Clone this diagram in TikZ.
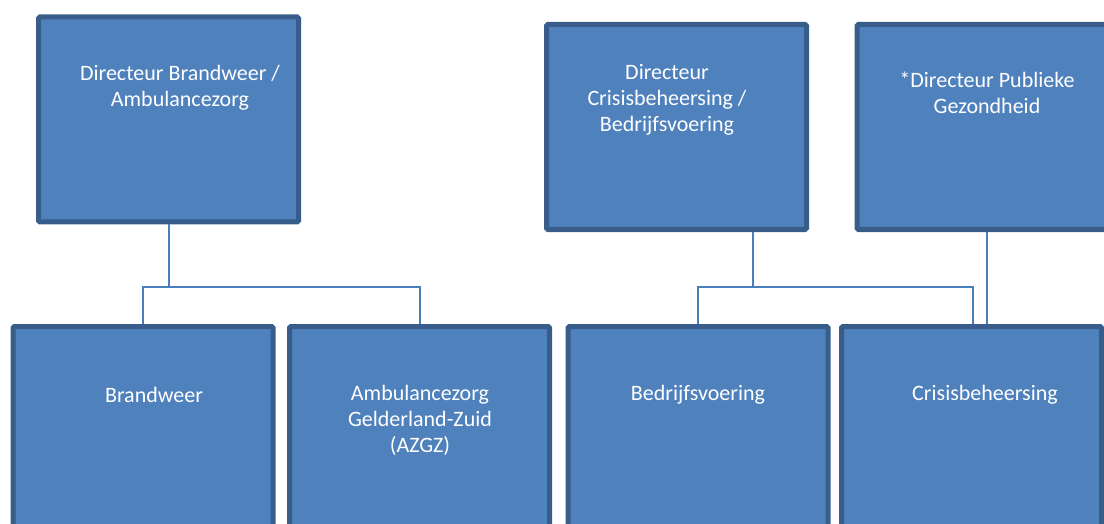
\documentclass[tikz,border=0pt]{standalone}
\usepackage{fontspec}
\setmainfont{Carlito}
\usetikzlibrary{positioning}
\definecolor{boxfill}{HTML}{4F81BD}
\definecolor{boxline}{HTML}{385D8A}
\definecolor{connline}{HTML}{4A7EBB}
\begin{document}
\begin{tikzpicture}[x=1pt,y=-1pt]
% Stijlen
\tikzset{
  unit/.style={rectangle, draw=boxline, fill=boxfill, line width=5pt, rounded corners=1.5pt, minimum width=260pt, minimum height=205pt, inner sep=0pt},
  caption/.style={text=white, align=center, font=\fontsize{22}{26}\selectfont, inner sep=0pt},
  conn/.style={draw=connline, line width=2pt}
}
\path[use as bounding box, clip] (0,0) rectangle (1104,524);

% Directeuren
\node[unit] (dir_bw) at (168.5,119.5) {};
\node[unit] (dir_cb) at (676.5,127) {};
\node[unit] (dir_pg) at (987,127) {};

% Onderdelen
\node[unit] (brandweer) at (143,429) {};
\node[unit] (azgz) at (419.5,429) {};
\node[unit] (bedrijf) at (698,429) {};
\node[unit] (crisis) at (971.5,429) {};

% Teksten
\node[caption] (t_dir_bw) at (180,87.5) {Directeur Brandweer /\\Ambulancezorg};
\node[caption] (t_dir_cb) at (667,100) {Directeur\\Crisisbeheersing /\\Bedrijfsvoering};
\node[caption] (t_dir_pg) at (987,93) {*Directeur Publieke\\Gezondheid};
\node[caption] (t_brandweer) at (154,395) {Brandweer};
\node[caption] (t_azgz) at (420,420) {Ambulancezorg\\Gelderland-Zuid\\(AZGZ)};
\node[caption] (t_bedrijf) at (698,395) {Bedrijfsvoering};
\node[caption] (t_crisis) at (985,395) {Crisisbeheersing};

% Verbindingen
\coordinate (bar_bw) at (168.5,287);
\coordinate (bar_cb) at (753,287);
\draw[conn] (dir_bw.south) -- (bar_bw);
\draw[conn] (brandweer.north) |- (bar_bw) -| (azgz.north);
\draw[conn] (dir_cb.south -| bar_cb) -- (bar_cb);
\draw[conn] (bedrijf.north) |- (bar_cb) -| ([xshift=1.5pt]crisis.north);
\draw[conn] (dir_pg.south) -- (dir_pg.south |- crisis.north);

\end{tikzpicture}
\end{document}
